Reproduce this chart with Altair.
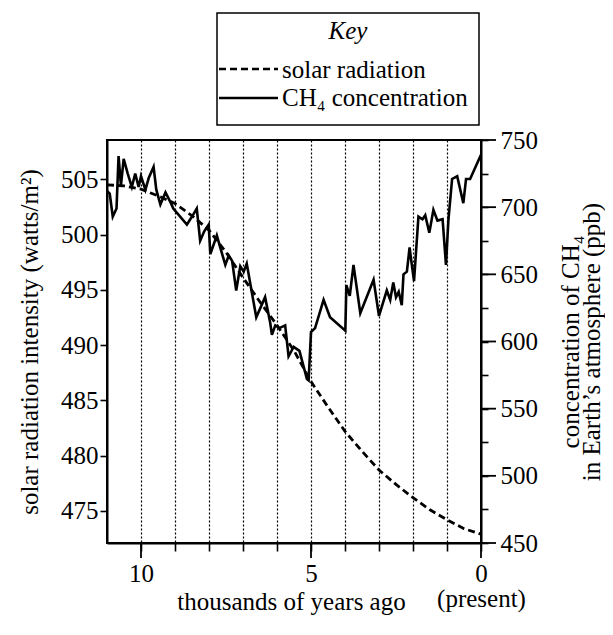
import altair as alt
import pandas as pd

FONT = "Liberation Serif"

# ---- data ----
solar_years = [11.0, 10.5, 10.0, 9.5, 9.0, 8.5, 8.0, 7.5, 7.0, 6.5, 6.0, 5.5, 5.0,
               4.5, 4.0, 3.5, 3.0, 2.5, 2.0, 1.5, 1.0, 0.5, 0.0]
solar_values = [504.5, 504.4, 504.1, 503.5, 502.8, 501.7, 500.4, 498.4, 496.1, 493.9,
                491.8, 489.5, 486.7, 484.4, 482.2, 480.4, 478.7, 477.4, 476.2, 475.1,
                474.2, 473.4, 472.9]

ch4_years = [11.0, 10.92, 10.83, 10.72, 10.66, 10.59, 10.51, 10.39, 10.27, 10.17, 10.07,
             10.0, 9.87, 9.77, 9.63, 9.55, 9.43, 9.28, 9.12, 9.05, 8.65, 8.5, 8.36,
             8.26, 8.14, 8.01, 7.96, 7.77, 7.67, 7.52, 7.42, 7.32, 7.2, 7.08, 6.98,
             6.89, 6.61, 6.35, 6.2, 6.15, 6.05, 5.93, 5.76, 5.66, 5.51, 5.34, 5.12,
             5.07, 5.0, 4.88, 4.63, 4.44, 3.99, 3.96, 3.86, 3.75, 3.55, 3.16, 3.0,
             2.77, 2.67, 2.58, 2.5, 2.42, 2.33, 2.28, 2.18, 2.1, 2.05, 1.97, 1.84,
             1.72, 1.64, 1.52, 1.4, 1.28, 1.13, 1.03, 0.96, 0.85, 0.7, 0.52, 0.44,
             0.32, 0.0]
ch4_values = [712, 710, 693, 699, 738, 716, 736, 725, 715, 725, 715, 723, 713, 722, 730,
              713, 702, 711, 703, 699, 687, 693, 699, 675, 682, 687, 665, 679, 670, 657,
              664, 660, 638, 656, 652, 658, 618, 633, 614, 605, 612, 610, 612, 589, 596,
              593, 572, 571, 607, 610, 631, 618, 608, 642, 634, 657, 621, 646, 619, 638,
              631, 644, 633, 637, 627, 650, 652, 670, 660, 645, 693, 691, 694, 681, 698,
              690, 691, 657, 690, 721, 723, 703, 721, 721, 739]

legend_title = ["Key"]
series_names = ["solar radiation", "CH\u2084 concentration"]
x_tick_years = [0, 1, 2, 3, 4, 5, 6, 7, 8, 9, 10]
x_major_years = [0, 5, 10]
solar_ticks = [475, 480, 485, 490, 495, 500, 505]
ch4_ticks = [450, 475, 500, 525, 550, 575, 600, 625, 650, 675, 700, 725, 750]
ch4_major = [450, 500, 550, 600, 650, 700, 750]

W, H = 374, 403
DASH = [7, 4]

solar_df = pd.DataFrame({"t": solar_years, "v": solar_values})
ch4_df = pd.DataFrame({"t": ch4_years, "c": ch4_values})
xmaj_df = pd.DataFrame({"t": x_major_years})
ch4maj_df = pd.DataFrame({"c": ch4_major})

x_scale = alt.Scale(domain=[11, 0], nice=False, zero=False)
x_axis = alt.Axis(
    values=x_tick_years, tickSize=8, labelPadding=10,
    labelExpr="datum.value == 0 ? ['0', '(present)'] : (datum.value % 5 === 0 ? datum.label : '')",
    labelFlush=False, labelOverlap=False, labelLineHeight=25,
    grid=True, gridDash=[2, 2], gridColor="black", gridWidth=1.2,
    title="thousands of years ago", titleX=184, titleY=66,
    titleAlign="center", titleBaseline="alphabetic",
)
x_enc = alt.X("t:Q", scale=x_scale, axis=x_axis)

solar_scale = alt.Scale(domain=[472.1, 508.55], nice=False, zero=False)
solar_axis = alt.Axis(
    orient="left", values=solar_ticks, tickSize=7, labelPadding=2, grid=False,
    title="solar radiation intensity (watts/m\u00b2)", titleAngle=270,
    titleX=-70, titleY=H / 2, titleAlign="center", titleBaseline="alphabetic",
)
ch4_scale = alt.Scale(domain=[450, 750], nice=False, zero=False)
ch4_axis = alt.Axis(
    orient="right", values=ch4_ticks, tickSize=7, labelPadding=12, grid=False,
    labelExpr="datum.value % 50 === 0 ? datum.label : ''",
    title=["concentration of CH\u2084", "in Earth\u2019s atmosphere (ppb)"],
    titleAngle=270, titleX=97, titleY=H / 2, titleAlign="center",
    titleBaseline="alphabetic", titleLineHeight=21,
)

solar = alt.Chart(solar_df).mark_line(color="black", strokeWidth=2.8, strokeDash=DASH).encode(
    x=x_enc,
    y=alt.Y("v:Q", scale=solar_scale, axis=solar_axis),
)
x_major = alt.Chart(xmaj_df).mark_rule(color="black", strokeWidth=1.8).encode(
    x=x_enc, y=alt.value(H), y2=alt.value(H + 15),
)

ch4 = alt.Chart(ch4_df).mark_line(color="black", strokeWidth=2.6).encode(
    x=x_enc,
    y=alt.Y("c:Q", scale=ch4_scale, axis=ch4_axis),
)
ch4_major_rules = alt.Chart(ch4maj_df).mark_rule(color="black", strokeWidth=1.8).encode(
    y=alt.Y("c:Q", scale=ch4_scale, axis=ch4_axis),
    x=alt.value(W), x2=alt.value(W + 15),
)

# ---- key (legend) box above the plot ----
key_df = pd.DataFrame({"label": legend_title})
s_df = pd.DataFrame({"label": [series_names[0]]})
c_df = pd.DataFrame({"label": [series_names[1]]})

key_box = alt.Chart(key_df).mark_rect(filled=False, stroke="black", strokeWidth=1.5).encode(
    x=alt.value(110), x2=alt.value(372), y=alt.value(-127), y2=alt.value(-15),
)
key_title = alt.Chart(key_df).mark_text(
    font=FONT, fontSize=25, fontStyle="italic", align="center", baseline="alphabetic", color="black",
).encode(text="label:N", x=alt.value(241), y=alt.value(-101))
key_dash = alt.Chart(s_df).mark_rule(color="black", strokeWidth=2.5, strokeDash=DASH).encode(
    x=alt.value(112), x2=alt.value(171), y=alt.value(-71),
)
key_solid = alt.Chart(c_df).mark_rule(color="black", strokeWidth=2.6).encode(
    x=alt.value(112), x2=alt.value(171), y=alt.value(-42),
)
key_s_text = alt.Chart(s_df).mark_text(
    font=FONT, fontSize=25, align="left", baseline="alphabetic", color="black",
).encode(text="label:N", x=alt.value(175), y=alt.value(-62))
key_c_text = alt.Chart(c_df).mark_text(
    font=FONT, fontSize=25, align="left", baseline="alphabetic", color="black",
).encode(text="label:N", x=alt.value(175), y=alt.value(-34))

chart = alt.layer(
    alt.layer(solar, x_major, key_box, key_title, key_dash, key_solid, key_s_text, key_c_text),
    alt.layer(ch4, ch4_major_rules),
).resolve_scale(y="independent").properties(
    width=W, height=H,
    autosize=alt.AutoSizeParams(type="none"),
    padding={"left": 99, "top": 132, "right": 124, "bottom": 84},
).configure(
    font=FONT,
).configure_view(
    stroke="black", strokeWidth=2,
).configure_axis(
    domainColor="black", domainWidth=2, tickColor="black", tickWidth=1.6,
    labelFont=FONT, labelFontSize=25, labelColor="black",
    titleFont=FONT, titleFontSize=25, titleFontWeight="normal", titleColor="black",
)

chart.save("out.html", embed_options={"renderer": "svg", "actions": False})
